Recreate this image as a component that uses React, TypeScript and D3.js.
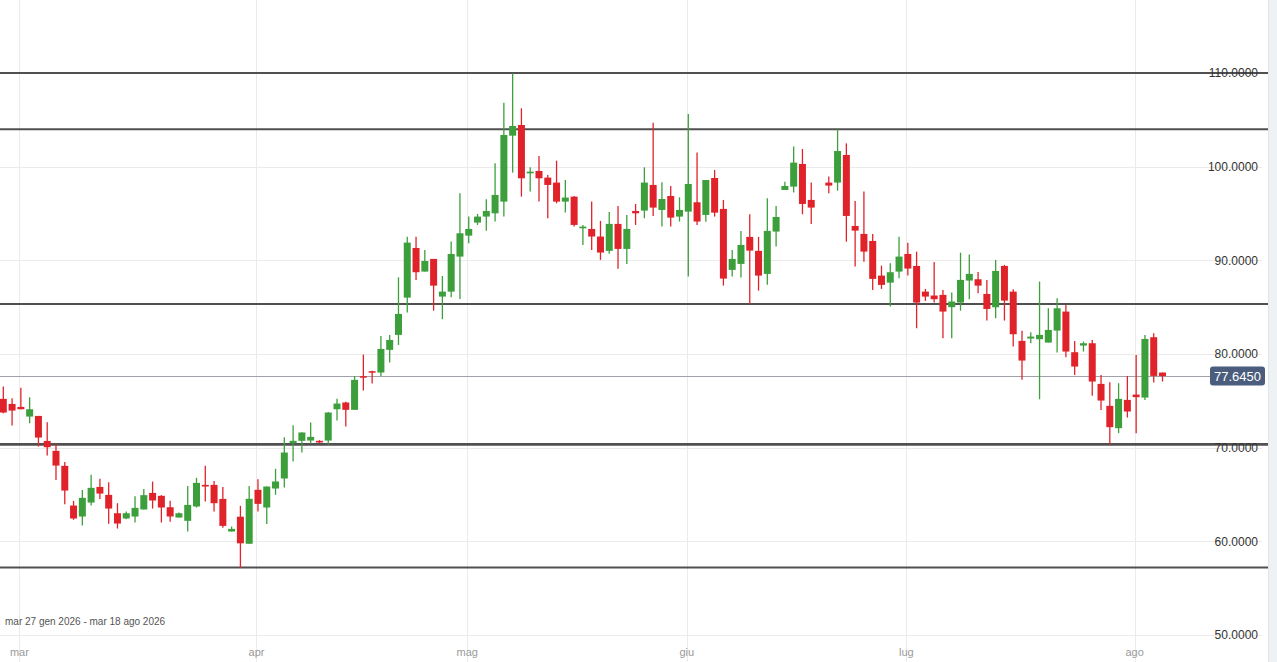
import React from 'react';
import * as d3 from 'd3';

// OHLC, one entry per trading session (null = no session drawn)
const opens: (number | null)[] = [
  75.21, 74.67, 74.35, 73.32, 73.39, 70.72, 69.66, 68.06, 63.82, 62.65,
  64.14, 65.81, 64.96, 63.0, 62.44, 62.65, 63.4, 65.17, 64.86, 63.64,
  62.54, 62.19, 63.72, 66.03, 66.03, 64.53, 61.05, 62.63, 59.74, 65.5,
  63.61, 65.64, 66.71, 70.48, 70.73, 70.76, 70.73, 70.76, 74.1, 74.82,
  74.04, 77.63, 78.16, 78.02, 80.44, 82.04, 86.02, 91.32, 88.8, 90.15,
  86.13, 86.66, 90.4, 92.64, 94.03, 94.67, 95.02, 96.27, 103.31, 104.45,
  99.29, 99.54, 98.83, 98.3, 96.27, 96.8, 93.42, 93.35, 92.54, 91.01,
  93.89, 91.22, 95.27, 95.31, 98.05, 95.38, 96.87, 94.67, 95.2, 96.2,
  94.85, 98.79, 95.49, 88.98, 89.62, 92.5, 91.01, 88.55, 93.07, 97.51,
  97.87, 100.29, 96.45, null, 98.3, 98.3, 101.25, 93.67, 92.82, 92.07,
  88.37, 87.62, 88.8, 90.68, 89.4, 86.66, 86.24, 86.31, 85.0, 85.49,
  87.84, 87.98, 86.41, 84.99, 89.4, 86.66, 81.4, 81.65, 81.58, 81.22,
  82.5, 84.53, 80.19, 80.9, 81.15, 76.81, 74.46, 72.08, 75.1, 75.67,
  75.35, 81.79, 78.02,
];
const highs: (number | null)[] = [
  76.52, 75.28, 76.41, 75.38, 73.39, 72.72, 70.4, 68.48, 64.32, 65.49,
  67.1, 66.67, 66.31, 64.07, 63.18, 64.82, 65.6, 66.38, 64.93, 64.32,
  63.08, 65.92, 66.78, 68.06, 66.45, 65.81, 61.58, 63.79, 65.9, 66.64,
  65.85, 67.74, 71.12, 72.4, 71.65, 72.68, 70.8, 73.82, 75.21, 74.89,
  77.66, 79.94, 78.2, 81.93, 82.04, 88.19, 92.53, 92.53, 91.11, 90.15,
  88.33, 92.0, 97.16, 94.67, 94.95, 96.52, 100.36, 106.83, 109.96, 106.23,
  99.93, 101.14, 99.12, 100.64, 98.58, 96.87, 93.78, 96.27, 94.21, 95.17,
  95.81, 94.85, 96.02, 99.93, 104.7, 98.33, 97.94, 96.73, 105.63, 101.5,
  98.58, 99.65, 96.45, 91.11, 93.14, 94.92, 92.5, 96.63, 95.81, 98.4,
  102.14, 101.89, 98.3, null, 98.94, 103.99, 102.49, 96.34, 97.34, 92.82,
  89.44, 89.69, 92.53, 91.89, 90.93, 86.95, 89.83, 86.84, 86.56, 90.82,
  90.61, 88.76, 87.91, 90.04, 89.51, 86.91, 82.47, 82.32, 87.73, 84.88,
  85.95, 85.24, 81.4, 81.33, 81.5, 77.77, 76.99, 76.88, 77.66, 79.9,
  82.04, 82.22, 78.02,
];
const lows: (number | null)[] = [
  73.68, 72.36, 74.1, 72.61, 70.12, 69.16, 66.56, 63.97, 62.3, 61.69,
  63.82, 64.53, 61.87, 61.37, 62.37, 62.01, 63.4, 63.5, 62.01, 62.08,
  62.54, 61.05, 63.61, 64.25, 63.18, 61.44, 61.05, 57.14, 59.74, 63.19,
  61.84, 64.97, 65.75, 68.52, 69.48, 70.41, 70.5, 70.3, 72.9, 72.26,
  74.04, 76.1, 76.84, 77.66, 79.09, 80.97, 84.42, 87.91, 88.8, 84.63,
  83.71, 86.06, 85.88, 91.82, 93.78, 93.17, 94.14, 94.67, 99.37, 96.8,
  97.34, 96.27, 94.49, 96.09, 95.1, 93.6, 91.65, 91.11, 90.05, 90.69,
  89.09, 89.62, 93.78, 94.49, 94.74, 93.6, 93.6, 94.14, 88.27, 93.78,
  94.13, 94.67, 87.3, 88.27, 88.16, 85.35, 86.77, 87.38, 91.47, 97.51,
  97.23, 94.92, 93.89, null, 97.16, 97.44, 91.99, 89.33, 89.86, 86.84,
  86.95, 85.06, 88.09, 88.37, 82.75, 85.67, 85.49, 81.68, 81.68, 84.63,
  85.85, 86.48, 83.57, 83.82, 83.57, 80.79, 77.24, 81.15, 75.17, 81.22,
  80.15, 79.66, 77.77, 80.26, 75.53, 74.03, 70.3, 71.55, 73.22, 71.55,
  75.1, 76.95, 77.06,
];
const closes: (number | null)[] = [
  73.75, 73.96, 74.1, 74.1, 71.08, 70.05, 68.09, 65.42, 62.44, 64.64,
  65.71, 65.1, 63.5, 61.9, 63.0, 63.57, 64.93, 64.36, 63.61, 62.65,
  63.0, 63.89, 66.24, 65.85, 64.07, 61.65, 61.33, 59.79, 64.54, 64.0,
  65.85, 66.39, 69.48, 70.73, 71.62, 71.15, 70.55, 73.75, 74.71, 74.04,
  77.24, 77.52, 78.02, 80.54, 81.5, 84.28, 91.89, 88.73, 89.93, 87.3,
  86.66, 90.68, 92.89, 93.35, 94.67, 95.27, 96.98, 103.38, 104.34, 98.76,
  99.47, 98.76, 98.05, 96.27, 96.7, 93.78, 93.6, 92.54, 90.83, 93.89,
  91.22, 93.35, 95.02, 98.3, 95.63, 96.55, 94.56, 95.38, 98.15, 94.14,
  98.58, 95.09, 88.05, 90.15, 91.64, 91.04, 88.37, 93.14, 94.63, 97.94,
  100.43, 96.02, 95.63, null, 97.98, 101.67, 94.74, 93.17, 90.93, 88.02,
  87.38, 88.73, 90.4, 89.12, 85.49, 86.13, 85.85, 84.53, 85.6, 87.91,
  88.55, 87.3, 84.81, 88.87, 85.7, 82.11, 79.3, 81.86, 82.04, 82.57,
  84.88, 80.26, 78.66, 81.15, 77.06, 75.03, 72.19, 75.21, 73.86, 75.39,
  81.61, 77.66, 77.645,
];

const monthLabels = ['mar', 'apr', 'mag', 'giu', 'lug', 'ago'];
const monthSessions = [2, 29, 53, 78, 103, 129];
const priceTicks = [50, 60, 70, 80, 90, 100, 110];
const levels = [110, 104, 85.35, 70.35, 57.2];
const lastPrice = 77.645;
const rangeText = 'mar 27 gen 2026 - mar 18 ago 2026';

const W = 1277;
const H = 662;
const plotRight = 1268;
const font = '"Liberation Sans", Arial, sans-serif';

const UP = '#3c9f3c';
const DOWN = '#e0232a';

export default function App() {
  const x = d3.scaleLinear().domain([0, opens.length - 1]).range([3.3, 1162.5]);
  const y = d3.scaleLinear().domain([50, 110]).range([635, 73]);
  const bodyW = 7;

  return (
    <svg
      width={W}
      height={H}
      style={{ position: 'absolute', left: 0, top: 0, background: '#fff' }}
      fontFamily={font}
    >
      <rect x={plotRight} y={0} width={W - plotRight} height={H} fill="#eef2f5" />
      <line x1={plotRight + 0.5} x2={plotRight + 0.5} y1={0} y2={H} stroke="#dfe5ea" />

      {/* grid */}
      {priceTicks.map((t) => (
        <line key={'g' + t} x1={0} x2={1262} y1={Math.round(y(t)) + 0.5} y2={Math.round(y(t)) + 0.5} stroke="#ebebeb" />
      ))}
      {monthSessions.map((s, i) => (
        <line key={'v' + i} x1={Math.round(x(s) - 1.5) + 0.5} x2={Math.round(x(s) - 1.5) + 0.5} y1={0} y2={H} stroke="#ebebeb" />
      ))}

      {/* horizontal levels */}
      {levels.map((l, i) => (
        <line
          key={'l' + i}
          x1={0}
          x2={plotRight}
          y1={y(l)}
          y2={y(l)}
          stroke="#505050"
          strokeWidth={l === 70.35 ? 2.6 : 2}
        />
      ))}

      {/* last price line */}
      <line x1={0} x2={1210} y1={Math.round(y(lastPrice)) + 0.5} y2={Math.round(y(lastPrice)) + 0.5} stroke="#a0a0a8" />

      {/* candles */}
      {opens.map((o, i) => {
        const h = highs[i];
        const l = lows[i];
        const c = closes[i];
        if (o == null || h == null || l == null || c == null) return null;
        const cx = x(i);
        const color = c >= o ? UP : DOWN;
        const top = y(Math.max(o, c));
        const bh = Math.max(1.5, y(Math.min(o, c)) - top);
        return (
          <g key={'c' + i}>
            <line x1={cx} x2={cx} y1={y(h)} y2={y(l)} stroke={color} strokeWidth={1.3} />
            <rect x={cx - bodyW / 2} y={top} width={bodyW} height={bh} fill={color} />
          </g>
        );
      })}

      {/* right axis labels */}
      {priceTicks.map((t) => (
        <text
          key={'t' + t}
          x={1258}
          y={y(t)}
          dy="0.35em"
          textAnchor="end"
          fontSize={12}
          fill="#333"
        >
          {d3.format('.4f')(t)}
        </text>
      ))}

      {/* last price tag */}
      <rect x={1210} y={y(lastPrice) - 9.5} width={55} height={19} rx={3} fill="#4a5d7c" />
      <text x={1237.5} y={y(lastPrice)} dy="0.36em" textAnchor="middle" fontSize={13} fill="#fff">
        {d3.format('.4f')(lastPrice)}
      </text>

      {/* month labels */}
      {monthSessions.map((s, i) => (
        <text key={'m' + i} x={x(s) - 1.5} y={656} textAnchor="middle" fontSize={11} fill="#9a9a9a">
          {monthLabels[i]}
        </text>
      ))}

      <text x={5} y={625} fontSize={10} fill="#555">
        {rangeText}
      </text>
    </svg>
  );
}
